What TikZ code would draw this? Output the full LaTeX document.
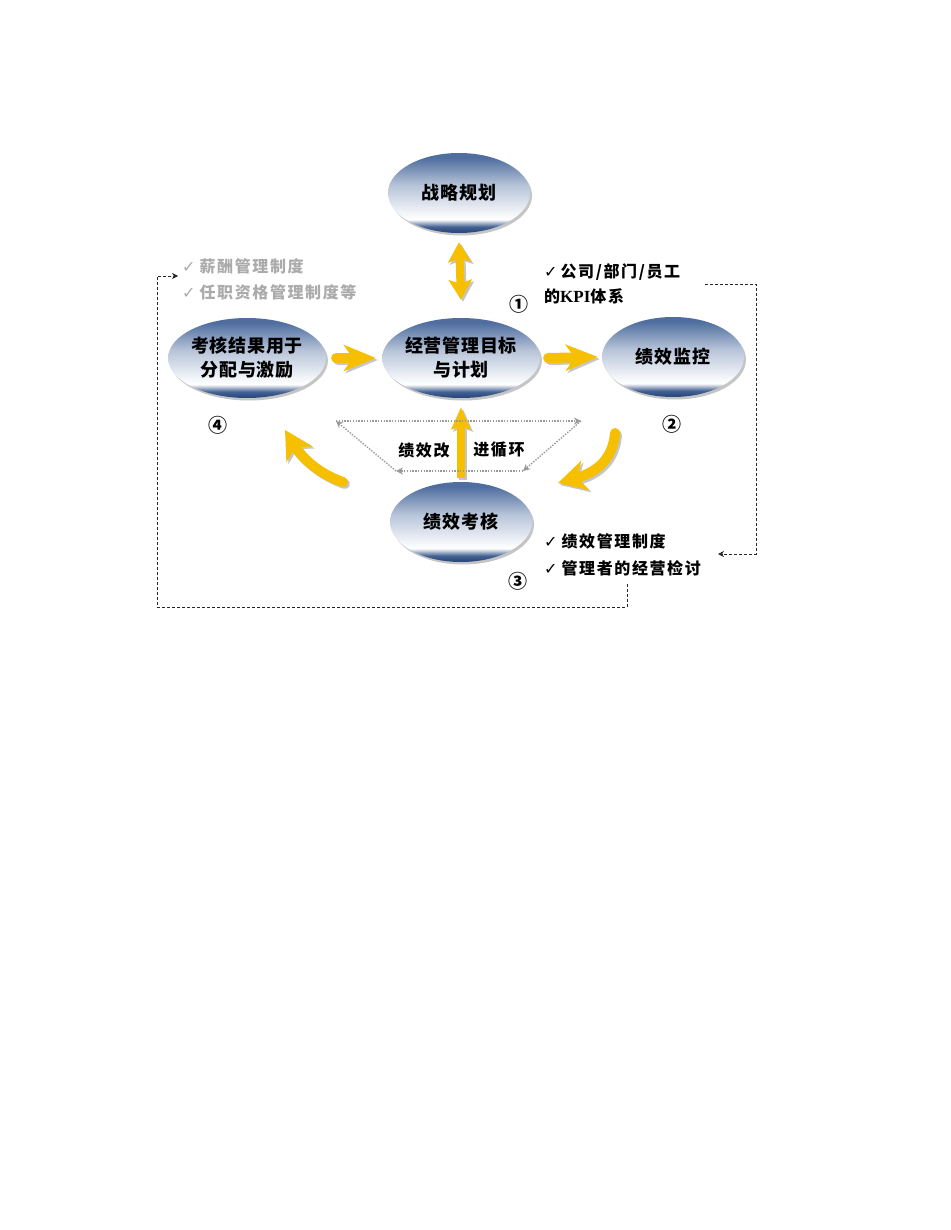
\documentclass[tikz,border=0pt]{standalone}
\usepackage{fontspec}
\usetikzlibrary{shapes.geometric,arrows.meta,shadows}
\newfontfamily\cjkO{Noto Sans CJK SC}[LetterSpace=4]
\newfontfamily\cjkS{Noto Sans CJK SC}[LetterSpace=10]
\newfontfamily\cjkN{Noto Sans CJK SC}
\newfontfamily\symf{DejaVu Sans}
\newfontfamily\kpif{Liberation Serif}
\definecolor{bD}{HTML}{2B4A7E}
\definecolor{bD2}{HTML}{456393}
\definecolor{bM}{HTML}{4F6E9F}
\definecolor{bL}{HTML}{B6C3D8}
\definecolor{bW}{HTML}{F1F4F8}
\definecolor{yel}{HTML}{F6BF00}
\definecolor{dotg}{HTML}{9A9A9A}
\definecolor{greytxt}{HTML}{ABABAB}
\pgfdeclareverticalshading{orb}{100bp}{color(0bp)=(bD); color(25bp)=(bD); color(26bp)=(bD); color(29bp)=(bD2); color(33.5bp)=(white); color(38bp)=(bW); color(55bp)=(bL); color(72bp)=(bM); color(100bp)=(bM)}
\begin{document}
\begin{tikzpicture}[x=1pt,y=-1pt,
  orb/.style={ellipse, minimum width=142pt, minimum height=80pt, inner sep=0pt,
    shading=orb, drop shadow={shadow xshift=2pt, shadow yshift=-2.5pt, opacity=0.45, fill=gray},
    align=center, text=black, font=\cjkO\bfseries\fontsize{18}{24}\selectfont},
  yarr/.style={draw=yel, line width=10pt, line cap=round},
  ysh/.style={draw=gray!45, transform canvas={shift={(2pt,-2pt)}}},
  bigtip/.style={-{Stealth[length=32pt,width=26pt,inset=9pt]}},
  dbltip/.style={{Stealth[length=20pt,width=23pt,inset=4pt]}-{Stealth[length=20pt,width=23pt,inset=4pt]}},
  uptip/.style={-{Stealth[length=22pt,width=19pt,inset=3pt]}},
  curvtip/.style={-{Stealth[length=28pt,width=30pt,inset=8pt]}},
  dotline/.style={draw=dotg, line width=1.4pt, dash pattern=on 1.4pt off 1.4pt, -{Stealth[length=7pt,width=7pt]}},
  dline/.style={draw=black!85, line width=0.8pt, dash pattern=on 3pt off 2pt, -{Stealth[length=6pt,width=6pt]}},
  side/.style={inner sep=0pt, anchor=west, font=\cjkS\bfseries\fontsize{16}{20}\selectfont},
  num/.style={inner sep=0pt, font=\cjkN\bfseries\fontsize{19}{19}\selectfont}
]
\useasboundingbox[fill=white] (0,0) rectangle (950,1230);

% ellipses
\node[orb] (zl) at (459,193) {战略规划};
\node[orb] (jy) at (461,358) {经营管理目标\\与计划};
\node[orb] (kh) at (247,358) {考核结果用于\\分配与激励};
\node[orb] (jk) at (673,357) {绩效监控};
\node[orb] (kp) at (461,522) {绩效考核};

% yellow arrows (shadow, then arrow)
\coordinate (c1s) at (615,433);
\coordinate (c1e) at (558,483);
\coordinate (c2s) at (343,482);
\coordinate (c2e) at (285,430);
\foreach \st in {ysh,yarr}{
  \draw[yarr, \st, line width=8pt, line cap=butt, dbltip]
    ([yshift=-9pt]zl.south) -- ([yshift=18pt]jy.north);
  \draw[yarr, \st, bigtip] ([xshift=10pt]kh.east) -- ([xshift=-6pt]jy.west);
  \draw[yarr, \st, bigtip] ([xshift=8pt]jy.east) -- ([xshift=-4pt]jk.west);
  \draw[yarr, \st, line width=8pt, line cap=butt, uptip]
    ([yshift=4pt]kp.north) -- ([yshift=-9pt]jy.south);
  \draw[yarr, \st, curvtip] (c1s) .. controls (613,458) and (598,472) .. (c1e);
  \draw[yarr, \st, curvtip] (c2s) .. controls (322,475) and (303,460) .. (c2e);
}

% dotted improvement cycle
\coordinate (t1) at (336,421);
\coordinate (t2) at (581,421);
\coordinate (t3) at (523,471);
\coordinate (t4) at (396,471);
\draw[dotline] (t1) -- (t2);
\draw[dotline] (t2) -- (t3);
\draw[dotline] (t3) -- (t4);
\draw[dotline] (t4) -- (t1);

\node[side, anchor=center] (gz) at (424,450) {绩效改};
\node[side, anchor=center] (xh) at (499,450) {进循环};

% circled numbers
\node[num] (n1) at (519,304) {①};
\node[num] (n2) at (672,424) {②};
\node[num] (n3) at (518,581) {③};
\node[num] (n4) at (218,425) {④};

% side texts
\node[side] (k1) at (544,272) {{\symf ✓}\hspace{3pt}公司/部门/员工};
\node[side] (k2) at (544,296) {的{\kpif\bfseries\fontsize{17}{20}\selectfont KPI}体系};
\node[side, text=greytxt] (g1) at (182,266) {{\symf ✓}\hspace{4pt}薪酬管理制度};
\node[side, text=greytxt] (g2) at (182,292) {{\symf ✓}\hspace{4pt}任职资格管理制度等};
\node[side] (b1) at (544,541) {{\symf ✓}\hspace{4pt}绩效管理制度};
\node[side] (b2) at (544,568) {{\symf ✓}\hspace{4pt}管理者的经营检讨};

% dashed feedback lines
\coordinate (d1a) at (705,284);
\coordinate (d1c) at (756,554);
\coordinate (d1d) at (718,554);
\draw[dline] (d1a) -| (d1c) -- (d1d);
\coordinate (d2a) at (627,584);
\coordinate (d2b) at (157,607);
\coordinate (d2c) at (178,276);
\draw[dline] (d2a) |- (d2b) |- (d2c);
\end{tikzpicture}
\end{document}
